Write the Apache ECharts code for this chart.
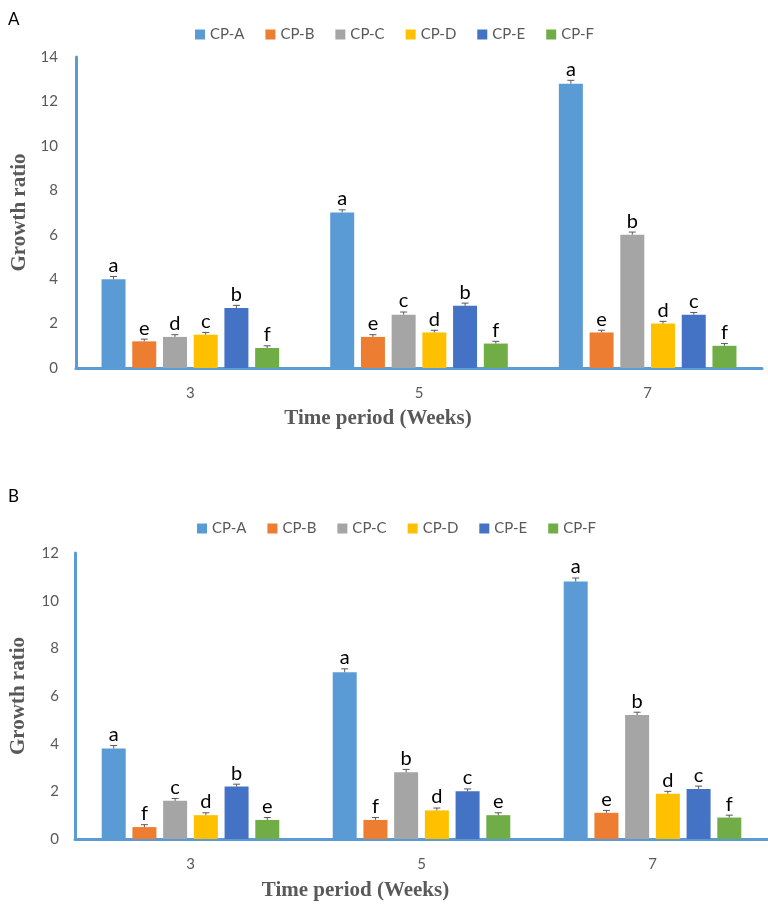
<!DOCTYPE html>
<html>
<head>
<meta charset="utf-8">
<script src="https://cdn.jsdelivr.net/npm/echarts@6/dist/echarts.min.js"></script>
<style>
html,body{margin:0;padding:0;background:#fff;}
#chart{width:768px;height:904px;}
</style>
</head>
<body>
<div id="chart"></div>
<script>
// ---- data ----
const categories = ['3', '5', '7'];
const seriesNames = ['CP-A', 'CP-B', 'CP-C', 'CP-D', 'CP-E', 'CP-F'];
const seriesColors = ['#5B9BD5', '#ED7D31', '#A5A5A5', '#FFC000', '#4472C4', '#70AD47'];

// Panel A (rows = series CP-A..CP-F, columns = weeks 3,5,7)
const panelAValues = [
  [4.0, 7.0, 12.8],
  [1.2, 1.4, 1.6],
  [1.4, 2.4, 6.0],
  [1.5, 1.6, 2.0],
  [2.7, 2.8, 2.4],
  [0.9, 1.1, 1.0]
];
const panelAErrors = [
  [0.12, 0.12, 0.15],
  [0.1, 0.1, 0.1],
  [0.1, 0.12, 0.12],
  [0.1, 0.1, 0.1],
  [0.12, 0.12, 0.1],
  [0.1, 0.1, 0.1]
];
const panelALetters = [
  ['a', 'a', 'a'],
  ['e', 'e', 'e'],
  ['d', 'c', 'b'],
  ['c', 'd', 'd'],
  ['b', 'b', 'c'],
  ['f', 'f', 'f']
];

// Panel B
const panelBValues = [
  [3.8, 7.0, 10.8],
  [0.5, 0.8, 1.1],
  [1.6, 2.8, 5.2],
  [1.0, 1.2, 1.9],
  [2.2, 2.0, 2.1],
  [0.8, 1.0, 0.9]
];
const panelBErrors = [
  [0.12, 0.14, 0.15],
  [0.1, 0.1, 0.1],
  [0.1, 0.12, 0.12],
  [0.1, 0.1, 0.1],
  [0.1, 0.1, 0.12],
  [0.1, 0.1, 0.1]
];
const panelBLetters = [
  ['a', 'a', 'a'],
  ['f', 'f', 'e'],
  ['c', 'b', 'b'],
  ['d', 'd', 'd'],
  ['b', 'c', 'c'],
  ['e', 'e', 'f']
];

const yTicksA = {min: 0, max: 14, interval: 2};
const yTicksB = {min: 0, max: 12, interval: 2};

// ---- styling ----
const BAR_W = 24;
const BAR_GAP = 0.28;
const STEP = BAR_W * (1 + BAR_GAP);
const AXIS_BLUE = '#5B9BD5';
const TEXT_GRAY = '#595959';
const SANS = 'Lato';
const SERIF = 'Liberation Serif';

function barSeries(gi, values) {
  return values.map((v, si) => ({
    type: 'bar',
    name: seriesNames[si],
    xAxisIndex: gi,
    yAxisIndex: gi,
    data: v,
    barWidth: BAR_W,
    barGap: (BAR_GAP * 100) + '%',
    itemStyle: {color: seriesColors[si]},
    z: 2
  }));
}

function errSeries(gi, values, errs, letters) {
  return values.map((v, si) => ({
    type: 'custom',
    name: 'err' + gi + '_' + si,
    xAxisIndex: gi,
    yAxisIndex: gi,
    silent: true,
    z: 3,
    data: v.map((val, i) => [i, val, errs[si][i]]),
    renderItem: function (params, api) {
      const idx = api.value(0), val = api.value(1), e = api.value(2);
      const p0 = api.coord([idx, val]);
      const p1 = api.coord([idx, val + e]);
      const x = p0[0] + (si - 2.5) * STEP;
      return {
        type: 'group',
        children: [
          {type: 'line', shape: {x1: x, y1: p0[1], x2: x, y2: p1[1]}, style: {stroke: '#595959', lineWidth: 1}},
          {type: 'line', shape: {x1: x - 3.5, y1: p1[1], x2: x + 3.5, y2: p1[1]}, style: {stroke: '#595959', lineWidth: 1}},
          {type: 'text', x: x, y: p1[1] - 1, style: {text: letters[si][params.dataIndex], textAlign: 'center', textVerticalAlign: 'bottom', fontSize: 20, fontFamily: SANS, fill: '#000'}}
        ]
      };
    }
  }));
}

function xAxis(gi, nameGap, shiftPad) {
  return {
    type: 'category', gridIndex: gi, data: categories,
    axisLine: {lineStyle: {color: AXIS_BLUE, width: 3}},
    axisTick: {show: false},
    axisLabel: {color: TEXT_GRAY, fontSize: 15, fontFamily: SANS, margin: 18},
    name: 'Time period (Weeks)', nameLocation: 'middle', nameGap: nameGap,
    nameTextStyle: {fontFamily: SERIF, fontWeight: 'bold', fontSize: 21, color: TEXT_GRAY, padding: [0, shiftPad, 0, 0]}
  };
}
function yAxis(gi, ticks, nameGap, margin) {
  return {
    type: 'value', gridIndex: gi, min: ticks.min, max: ticks.max, interval: ticks.interval,
    axisLine: {show: true, lineStyle: {color: AXIS_BLUE, width: 3}},
    axisTick: {show: false},
    splitLine: {show: false},
    axisLabel: {color: TEXT_GRAY, fontSize: 15, fontFamily: SANS, margin: margin},
    name: 'Growth ratio', nameLocation: 'middle', nameGap: nameGap,
    nameTextStyle: {fontFamily: SERIF, fontWeight: 'bold', fontSize: 21, color: TEXT_GRAY}
  };
}
function legend(left, top) {
  return {
    data: seriesNames, left: left, top: top, icon: 'rect', itemWidth: 10, itemHeight: 10, itemGap: 21,
    textStyle: {color: TEXT_GRAY, fontSize: 15, fontFamily: SANS}
  };
}

const chart = echarts.init(document.getElementById('chart'), null, {renderer: 'canvas'});
chart.setOption({
  animation: false,
  backgroundColor: '#fff',
  graphic: [
    {type: 'text', left: 8, top: 11, style: {text: 'A', fontSize: 17, fontFamily: SANS, fill: '#000'}},
    {type: 'text', left: 8, top: 488, style: {text: 'B', fontSize: 17, fontFamily: SANS, fill: '#000'}}
  ],
  legend: [legend(190, 22), legend(192, 516)],
  grid: [
    {left: 76, top: 57, width: 686, height: 311},
    {left: 63, top: 553, width: 705, height: 286}
  ],
  xAxis: [xAxis(0, 40, 82), xAxis(1, 41, 132)],
  yAxis: [yAxis(0, yTicksA, 41, 18), yAxis(1, yTicksB, 46, 16)],
  series: [].concat(
    barSeries(0, panelAValues),
    errSeries(0, panelAValues, panelAErrors, panelALetters),
    barSeries(1, panelBValues),
    errSeries(1, panelBValues, panelBErrors, panelBLetters)
  )
});
</script>
</body>
</html>
